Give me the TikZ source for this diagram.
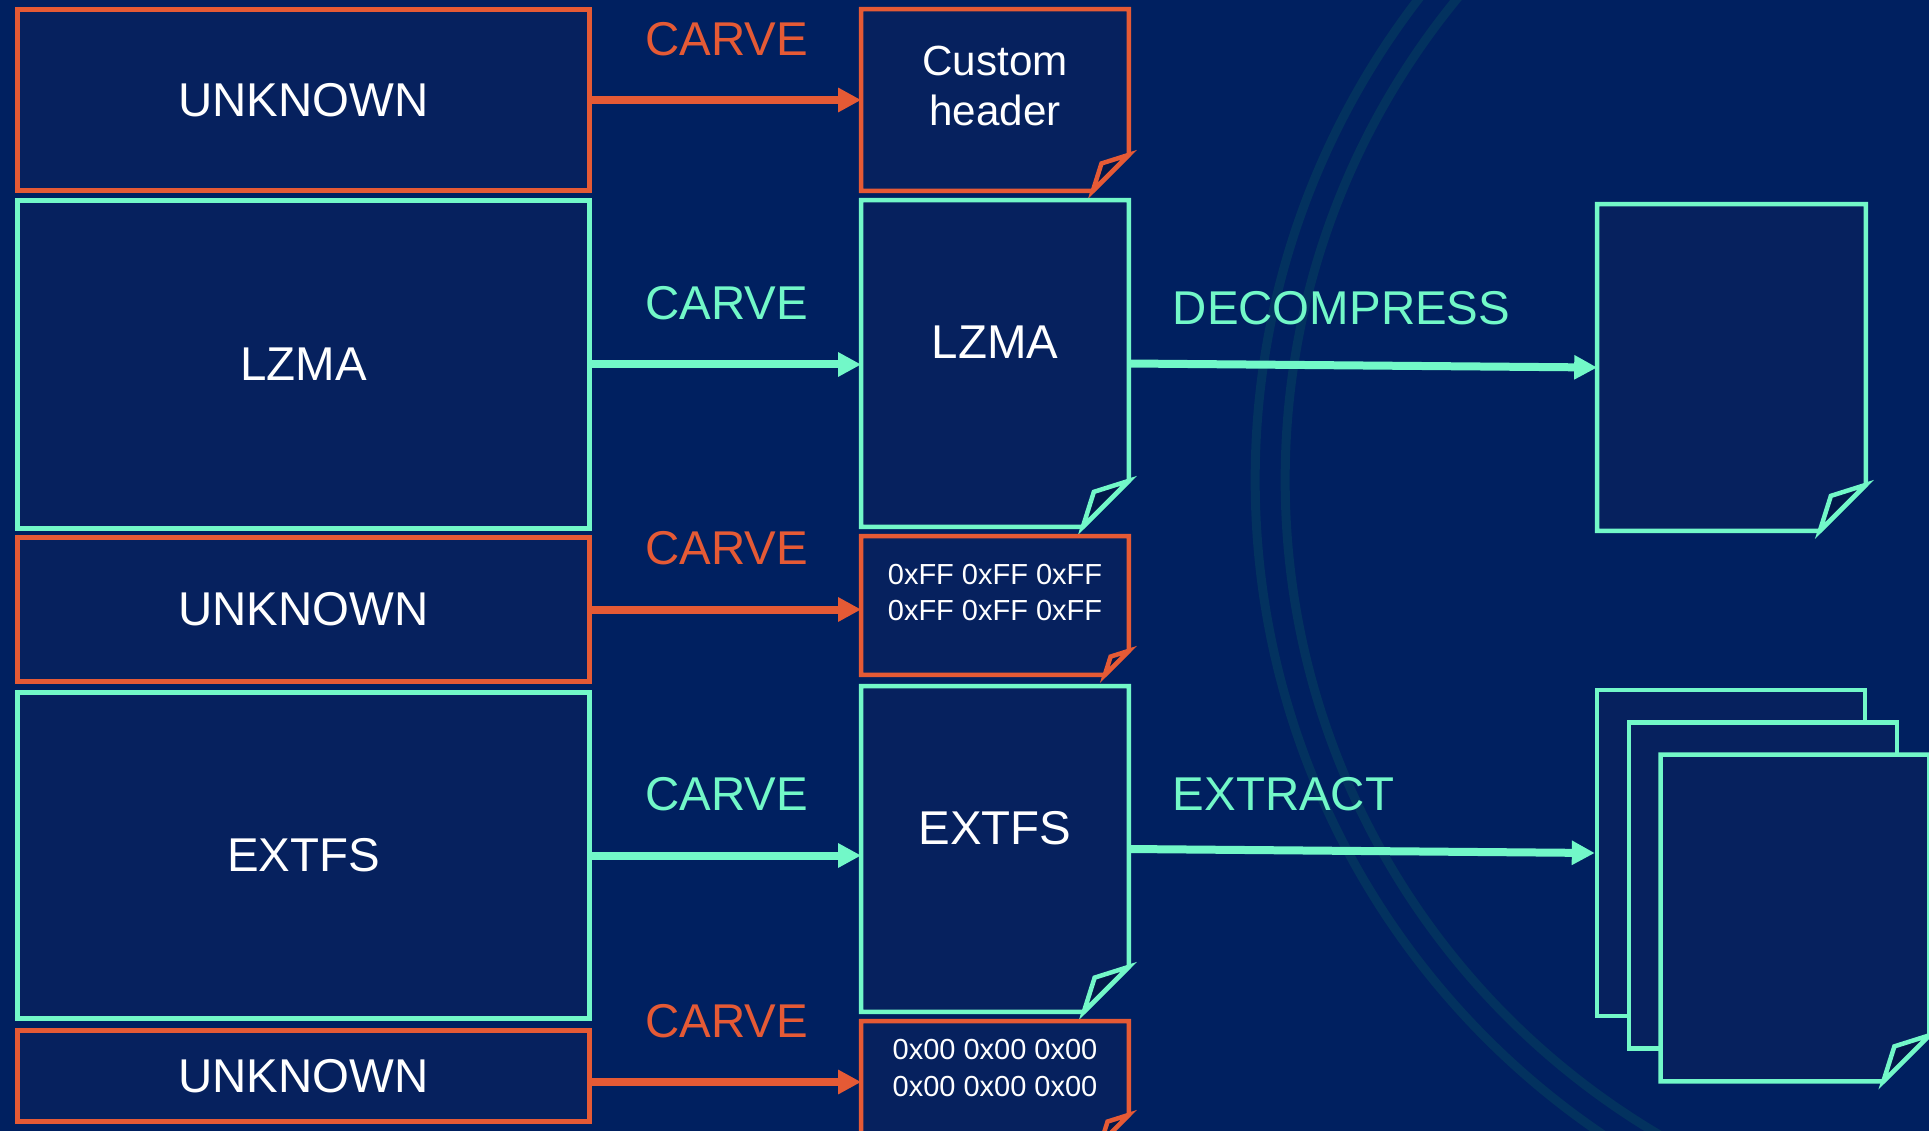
\documentclass[tikz,border=0pt]{standalone}
\usepackage{fontspec}
\setmainfont{Liberation Sans}
\usetikzlibrary{arrows.meta,calc}
\definecolor{fwnavy}{HTML}{002060}
\definecolor{fwbox}{HTML}{06215E}
\definecolor{fwflap}{HTML}{03184A}
\definecolor{fwring}{HTML}{03325F}
\definecolor{fworange}{HTML}{E55A35}
\definecolor{fwmint}{HTML}{72F8C8}
\newcommand\bigtxt{\fontsize{27}{32}\selectfont}
\newcommand\midtxt{\fontsize{24}{28}\selectfont}
\newcommand\hextxt{\fontsize{16.5}{21}\selectfont}
\newcommand\dogear[3]{%
  \filldraw[draw=#3, fill=fwbox, line width=0.09cm, line join=miter]
    (#1.north west) -- (#1.north east) -- ($(#1.south east)+(0,-#2)$)
    -- ($(#1.south east)+(-#2,0)$) -- (#1.south west) -- cycle;
  \filldraw[draw=#3, fill=fwflap, line width=0.09cm, line join=miter]
    ($(#1.south east)+(0,-#2)$) -- ($(#1.south east)+(-0.76*#2,-0.76*#2)$)
    -- ($(#1.south east)+(-#2,0)$) -- cycle;}

\begin{document}
\begin{tikzpicture}[x=0.02cm,y=-0.02cm,
  region/.style={draw=#1, fill=fwbox, line width=0.1cm, minimum width=11.46cm,
    inner sep=0pt, text=white, font=\bigtxt},
  pagebox/.style={minimum width=5.34cm, inner sep=0pt},
  outpage/.style={minimum width=5.36cm, minimum height=6.52cm, inner sep=0pt},
  pagetxt/.style={text=white, align=center, inner sep=0pt},
  flow/.style={draw=#1, line width=0.16cm, -{Triangle[length=0.46cm,width=0.46cm]}},
  flowlabel/.style={text=#1, font=\bigtxt, inner sep=0pt}]
  \useasboundingbox (0,0) rectangle (1929,1131);
  \fill[fwnavy] (0,0) rectangle (1929,1131);
  \begin{scope}
    \clip (0,0) rectangle (1929,1131);
    \draw[fwring, line width=0.18cm] (2045,480) circle[radius=15.8cm];
    \draw[fwring, line width=0.18cm] (2045,480) circle[radius=15.2cm];
  \end{scope}

  \node[region=fworange, minimum height=3.62cm] (u1) at (303.5,100) {UNKNOWN};
  \node[region=fwmint, minimum height=6.56cm] (lzma) at (303.5,364.5) {LZMA};
  \node[region=fworange, minimum height=2.88cm] (u2) at (303.5,609.5) {UNKNOWN};
  \node[region=fwmint, minimum height=6.52cm] (extfs) at (303.5,855.5) {EXTFS};
  \node[region=fworange, minimum height=1.82cm] (u3) at (303.5,1076) {UNKNOWN};

  \node[pagebox, minimum height=3.62cm] (hdr) at (995,100) {};
  \node[pagebox, minimum height=6.52cm] (lzmaM) at (995,363.5) {};
  \node[pagebox, minimum height=2.76cm] (ffM) at (995,605.5) {};
  \node[pagebox, minimum height=6.5cm] (extM) at (995,849) {};
  \node[pagebox, minimum height=2.42cm] (zeroM) at (995,1082) {};
  \dogear{hdr}{36}{fworange}
  \dogear{lzmaM}{46}{fwmint}
  \dogear{ffM}{24}{fworange}
  \dogear{extM}{45}{fwmint}
  \dogear{zeroM}{28}{fworange}

  \node[pagetxt, font=\midtxt, yshift=0.28cm] (hdrtxt) at (hdr) {Custom\\header};
  \node[pagetxt, font=\bigtxt, yshift=0.43cm] (lzmatxt) at (lzmaM) {LZMA};
  \node[pagetxt, font=\hextxt, yshift=0.26cm] (fftxt) at (ffM) {0xFF 0xFF 0xFF\\0xFF 0xFF 0xFF};
  \node[pagetxt, font=\bigtxt, yshift=0.42cm] (exttxt) at (extM) {EXTFS};
  \node[pagetxt, font=\hextxt, yshift=0.28cm] (zerotxt) at (zeroM) {0x00 0x00 0x00\\0x00 0x00 0x00};

  \node[outpage] (out) at (1731.5,367.5) {};
  \dogear{out}{46}{fwmint}
  \node[outpage, draw=fwmint, fill=fwbox, line width=0.09cm] (files1) at (1731,853) {};
  \node[outpage, draw=fwmint, fill=fwbox, line width=0.09cm] (files2) at (1763,885.5) {};
  \node[outpage] (files3) at (1795,918) {};
  \dogear{files3}{46}{fwmint}

  \draw[flow=fworange] (u1.east) -- (u1.east -| hdr.west)
    node[midway, yshift=1.22cm, flowlabel=fworange] (c1) {CARVE};
  \draw[flow=fwmint] (lzma.east) -- (lzma.east -| lzmaM.west)
    node[midway, yshift=1.22cm, flowlabel=fwmint] (c2) {CARVE};
  \draw[flow=fworange] (u2.east) -- (u2.east -| ffM.west)
    node[midway, yshift=1.22cm, flowlabel=fworange] (c3) {CARVE};
  \draw[flow=fwmint] (extfs.east) -- (extfs.east -| extM.west)
    node[midway, yshift=1.22cm, flowlabel=fwmint] (c4) {CARVE};
  \draw[flow=fworange] (u3.east |- zeroM.west) -- (zeroM.west)
    node[midway, yshift=1.22cm, flowlabel=fworange] (c5) {CARVE};

  \draw[flow=fwmint] (lzmaM.east) -- (out.west)
    node[pos=0, anchor=west, xshift=0.8cm, yshift=1.1cm, flowlabel=fwmint] (dec) {DECOMPRESS};
  \draw[flow=fwmint] (extM.east) -- (files1.west)
    node[pos=0, anchor=west, xshift=0.8cm, yshift=1.1cm, flowlabel=fwmint] (ext) {EXTRACT};
\end{tikzpicture}
\end{document}
